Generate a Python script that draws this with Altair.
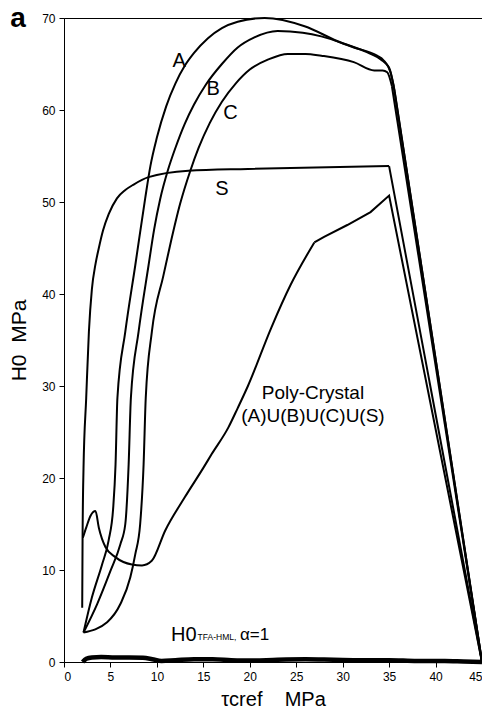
import altair as alt
import pandas as pd

# ---- curve data ----
A_x = [2.1, 3.0, 4.1, 4.8, 5.3, 5.55, 5.75, 6.6, 7.67, 8.74, 9.3, 10.0, 11.0, 12.0, 13.0, 14.0, 15.5, 17.0, 18.7, 21.6, 25.9, 29.4, 33.0, 34.1, 35.0, 35.5]
A_y = [3.2, 7.0, 10.6, 13.2, 16.8, 21.5, 28.7, 35.9, 43.1, 50.4, 53.9, 57.0, 60.4, 62.9, 64.8, 66.2, 67.8, 68.9, 69.6, 70.0, 69.1, 67.5, 66.1, 65.5, 64.6, 62.6]

B_x = [2.1, 3.57, 5.0, 6.07, 6.6, 6.96, 7.2, 8.03, 9.1, 9.7, 10.35, 11.2, 12.0, 13.0, 14.0, 15.3, 17.0, 18.7, 20.5, 23.0, 25.7, 27.7, 31.2, 33.7, 34.4, 35.15, 35.6]
B_y = [3.2, 6.3, 9.9, 12.8, 15.0, 21.5, 28.7, 35.9, 43.1, 47.0, 50.3, 53.5, 55.9, 58.5, 60.6, 62.8, 65.0, 66.8, 67.9, 68.6, 68.4, 68.0, 66.8, 65.9, 65.4, 64.1, 62.0]

C_x = [2.1, 4.64, 6.07, 7.14, 7.67, 8.2, 8.57, 8.8, 9.46, 10.7, 11.4, 12.5, 13.6, 14.5, 15.7, 17.0, 18.5, 20.0, 22.0, 24.1, 26.0, 27.7, 31.2, 33.4, 34.3, 34.8, 35.3]
C_y = [3.2, 4.33, 6.3, 9.2, 11.7, 15.0, 21.5, 28.7, 35.9, 42.0, 45.2, 49.8, 53.4, 55.9, 58.6, 60.9, 62.9, 64.4, 65.5, 66.1, 66.1, 65.9, 65.2, 64.3, 64.3, 64.1, 62.6]

S_x = [1.96, 2.0, 2.1, 2.39, 2.68, 3.0, 3.4, 3.75, 4.2, 4.82, 5.7, 6.6, 7.5, 9.1, 13.4, 19.8, 35.0]
S_y = [5.9, 13.5, 21.0, 28.7, 35.9, 40.5, 43.3, 45.0, 46.9, 48.7, 50.4, 51.3, 51.9, 52.7, 53.4, 53.6, 53.9]

P_x = [2.03, 2.39, 2.86, 3.39, 3.75, 4.46, 5.53, 7.3, 8.4, 9.45, 10.9, 13.0, 15.0, 15.9, 17.7, 18.7, 19.8, 22.3, 24.4, 26.95]
P_y = [13.5, 14.6, 15.9, 16.4, 14.6, 12.5, 11.4, 10.6, 10.5, 11.0, 14.3, 17.9, 21.1, 22.6, 25.5, 27.6, 30.0, 36.3, 41.0, 45.6]
P_line_x = [26.95, 28.0, 30.5, 33.0, 35.0, 45.0]
P_line_y = [45.6, 46.2, 47.5, 48.9, 50.7, 0.0]

END_X, END_Y = 45.0, 0.0

H0_x = [2.0, 2.4, 3.0, 4.0, 5.5, 7.0, 8.5, 9.5, 10.5, 12, 14, 16, 18, 20, 23, 26, 29, 32, 35, 38, 41, 43, 45]
H0_y = [0.0, 0.35, 0.5, 0.55, 0.5, 0.5, 0.45, 0.3, 0.12, 0.2, 0.3, 0.3, 0.2, 0.15, 0.25, 0.3, 0.25, 0.2, 0.2, 0.1, 0.1, 0.05, 0.0]

lab_text = ["A", "B", "C", "S"]
lab_x = [12.4, 16.06, 17.93, 17.0]
lab_y = [65.3, 62.3, 59.7, 51.4]

FONT = "Liberation Sans"


def frame(name, xs, ys):
    return pd.DataFrame({"x": xs, "y": ys, "series": name, "order": list(range(len(xs)))})


smooth_df = pd.concat([
    frame("A", A_x, A_y), frame("B", B_x, B_y), frame("C", C_x, C_y),
    frame("S", S_x, S_y), frame("P", P_x, P_y),
])
straight_df = pd.concat([
    frame("A", [A_x[-1], END_X], [A_y[-1], END_Y]),
    frame("B", [B_x[-1], END_X], [B_y[-1], END_Y]),
    frame("C", [C_x[-1], END_X], [C_y[-1], END_Y]),
    frame("S", [S_x[-1], END_X], [S_y[-1], END_Y]),
    frame("P", P_line_x, P_line_y),
])
h0_df = frame("H0", H0_x, H0_y)

xs = alt.Scale(domain=[0, 45], nice=False, zero=False)
ys = alt.Scale(domain=[0, 70], nice=False)

xenc = alt.X("x:Q", scale=xs, axis=alt.Axis(
    values=list(range(0, 50, 5)), title="τcref\u00a0\u00a0\u00a0\u00a0MPa",
    titleFontSize=20, titlePadding=7))
yenc = alt.Y("y:Q", scale=ys, axis=alt.Axis(
    values=list(range(0, 80, 10)), title="H0\u00a0\u00a0MPa",
    titleFontSize=21, titlePadding=12))

smooth = alt.Chart(smooth_df).mark_line(interpolate="monotone", color="black", strokeWidth=2).encode(
    x=xenc, y=yenc, detail="series:N", order="order:Q")
straight = alt.Chart(straight_df).mark_line(color="black", strokeWidth=2).encode(
    x="x:Q", y="y:Q", detail="series:N", order="order:Q")
h0 = alt.Chart(h0_df).mark_line(interpolate="monotone", color="black", strokeWidth=4.5).encode(
    x="x:Q", y="y:Q", order="order:Q")

labels = alt.Chart(pd.DataFrame({"t": lab_text, "x": lab_x, "y": lab_y})).mark_text(
    font=FONT, fontSize=20, align="center", baseline="middle", color="black").encode(
    x="x:Q", y="y:Q", text="t:N")

poly = alt.Chart(pd.DataFrame({"t": ["Poly-Crystal", "(A)U(B)U(C)U(S)"], "x": [26.8, 26.8], "y": [29.2, 26.7]})).mark_text(
    font=FONT, fontSize=19, align="center", baseline="middle", color="black").encode(
    x="x:Q", y="y:Q", text="t:N")

h0a = alt.Chart(pd.DataFrame({"t": ["H0"], "x": [11.53], "y": [2.3]})).mark_text(
    font=FONT, fontSize=20, align="left", baseline="alphabetic", color="black").encode(
    x="x:Q", y="y:Q", text="t:N")
h0b = alt.Chart(pd.DataFrame({"t": ["TFA-HML,"], "x": [14.38], "y": [2.35]})).mark_text(
    font=FONT, fontSize=8.5, align="left", baseline="alphabetic", color="black").encode(
    x="x:Q", y="y:Q", text="t:N")
h0c = alt.Chart(pd.DataFrame({"t": ["α=1"], "x": [18.95], "y": [2.35]})).mark_text(
    font=FONT, fontSize=17, align="left", baseline="alphabetic", color="black").encode(
    x="x:Q", y="y:Q", text="t:N")

panel = alt.Chart(pd.DataFrame({"t": ["a"]})).mark_text(
    font=FONT, fontSize=28, fontWeight="bold", align="center", baseline="alphabetic", color="black").encode(
    text="t:N", x=alt.value(-46), y=alt.value(9))

chart = alt.layer(smooth, straight, h0, labels, poly, h0a, h0b, h0c, panel).properties(
    width=418, height=644,
    autosize=alt.AutoSizeParams(type="none"),
    padding={"left": 56, "top": 10, "right": 0, "bottom": 48},
).configure_view(stroke="black", strokeWidth=1).configure_axis(
    grid=False, domainColor="black", tickColor="black", labelColor="black", titleColor="black",
    tickSize=5, labelFont=FONT, labelFontSize=12, titleFont=FONT, titleFontWeight="normal",
    labelPadding=4, domainWidth=1,
)

chart.save("out.html", embed_options={"renderer": "svg", "actions": False})
